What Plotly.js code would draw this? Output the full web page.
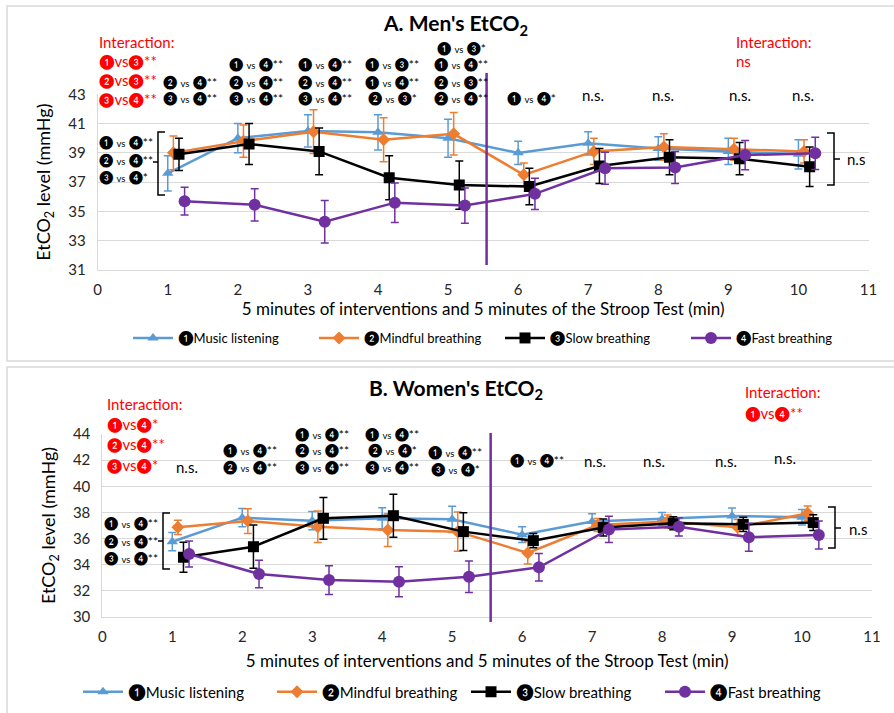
<!DOCTYPE html>
<html><head><meta charset="utf-8">
<script src="https://cdn.plot.ly/plotly-3.0.1.min.js"></script>
<style>body{margin:0;padding:0;background:#fff}#chart{width:894px;height:713px}</style>
</head><body><div id="chart"></div>
<script>
// ---------- data ----------
const minutes = [1,2,3,4,5,6,7,8,9,10];
const seriesNames = ["❶Music listening","❷Mindful breathing","❸Slow breathing","❹Fast breathing"];

const menMusic      = [37.6, 40.0, 40.5, 40.4, 40.0, 39.0, 39.65, 39.3, 39.1, 38.9];
const menMusicErr   = [1.2, 1.0, 1.1, 1.2, 1.3, 0.8, 0.8, 0.8, 0.9, 1.0];
const menMindful    = [39.0, 39.8, 40.45, 39.9, 40.3, 37.5, 39.1, 39.4, 39.25, 39.1];
const menMindfulErr = [1.15, 1.1, 1.5, 1.5, 1.45, 0.8, 0.9, 0.9, 0.75, 0.8];
const menSlow       = [38.9, 39.6, 39.1, 37.3, 36.8, 36.7, 38.1, 38.7, 38.6, 38.05];
const menSlowErr    = [1.1, 1.4, 1.6, 1.5, 1.65, 1.25, 1.2, 1.2, 1.1, 1.35];
const menFast       = [35.7, 35.45, 34.3, 35.6, 35.4, 36.2, 37.95, 38.0, 38.85, 38.97];
const menFastErr    = [0.95, 1.1, 1.45, 1.35, 1.2, 1.07, 1.1, 1.1, 1.0, 1.1];

const womenMusic      = [35.76, 37.6, 37.37, 37.55, 37.47, 36.3, 37.3, 37.5, 37.73, 37.63];
const womenMusicErr   = [0.7, 0.7, 0.7, 0.8, 1.0, 0.6, 0.6, 0.5, 0.6, 0.6];
const womenMindful    = [36.86, 37.34, 36.9, 36.65, 36.53, 34.9, 37.04, 37.3, 36.86, 37.94];
const womenMindfulErr = [0.55, 0.95, 1.2, 1.25, 1.5, 0.85, 0.5, 0.5, 0.6, 0.55];
const womenSlow       = [34.57, 35.38, 37.55, 37.75, 36.53, 35.84, 36.84, 37.17, 37.09, 37.22];
const womenSlowErr    = [1.15, 1.65, 1.6, 1.65, 1.45, 0.55, 0.65, 0.5, 0.55, 0.6];
const womenFast       = [34.82, 33.29, 32.83, 32.7, 33.08, 33.8, 36.7, 36.9, 36.1, 36.27];
const womenFastErr    = [1.0, 1.05, 1.1, 1.15, 1.2, 1.05, 1.0, 0.7, 1.07, 1.07];

// significance texts (top to bottom, per minute)
const menSig1 = ["❷ vs ❹**","❸ vs ❹**"];
const menSig2 = ["❶ vs ❹**","❷ vs ❹**","❸ vs ❹**"];
const menSig3 = ["❶ vs ❹**","❷ vs ❹**","❸ vs ❹**"];
const menSig4 = ["❶ vs ❸**","❶ vs ❹**","❷ vs ❸*"];
const menSig5 = ["❶ vs ❸*","❶ vs ❹**","❷ vs ❸**","❷ vs ❹**"];
const menSig6 = ["❶ vs ❹*"];
const menInterLeft  = ["Interaction:","❶vs❸**","❷vs❸**","❸vs❹**"];
const menInterRight = ["Interaction:","ns"];
const menBaseline   = ["❶ vs ❹**","❷ vs ❹**","❸ vs ❹*"];

const womenSig2 = ["❶ vs ❹**","❷ vs ❹**"];
const womenSig3 = ["❶ vs ❹**","❷ vs ❹**","❸ vs ❹**"];
const womenSig4 = ["❶ vs ❹**","❷ vs ❹*","❸ vs ❹**"];
const womenSig5 = ["❶ vs ❹**","❸ vs ❹*"];
const womenSig6 = ["❶ vs ❹**"];
const womenInterLeft  = ["Interaction:","❶vs❹*","❷vs❹**","❸vs❹*"];
const womenInterRight = ["Interaction:","❶vs❹**"];
const womenBaseline   = ["❶ vs ❹**","❷ vs ❹**","❸ vs ❹**"];
const nsText = "n.s.";

// ---------- style / layout ----------
const W=894, H=713;
const px = x => x/W, py = y => 1 - y/H;
const FONT = 'Lato, "DejaVu Sans", sans-serif';
const colors  = ['#5b9bd5','#ed7d31','#000000','#7030a0'];
const symbols = ['triangle-up','diamond','square','circle'];
const msize   = [10,10,11,12];
const jitter  = [0,0.08,0.16,0.24];

function circ(s, size){ return s.replace(/[❶❷❸❹]/g, c=>'<span style="font-size:'+size+'px">'+c+'</span>'); }

function makeTraces(vals, errs, xa, ya, leg, dsize){
  return vals.map((v,i)=>({
    type:'scatter', mode:'lines+markers',
    x: minutes.map(m=>m+jitter[i]), y: v,
    error_y:{type:'data', array:errs[i], visible:true, color:colors[i], thickness:1.5, width:4},
    line:{color:colors[i], width:2.5},
    marker:{symbol:symbols[i], size:msize[i], color:colors[i]},
    name: circ(seriesNames[i], dsize), xaxis:xa, yaxis:ya, legend:leg
  }));
}
const traces = [
  ...makeTraces([menMusic,menMindful,menSlow,menFast],[menMusicErr,menMindfulErr,menSlowErr,menFastErr],'x','y','legend',14),
  ...makeTraces([womenMusic,womenMindful,womenSlow,womenFast],[womenMusicErr,womenMindfulErr,womenSlowErr,womenFastErr],'x2','y2','legend2',16)
];

const ann = [];
function sig(s){ return circ(s.replace(' vs ', ' <span style="font-size:9.5px">vs</span> '), 13); }
function addText(text, x, y, opts){
  ann.push(Object.assign({xref:'paper', yref:'paper', x:px(x), y:py(y), text:text, showarrow:false,
    xanchor:'center', yanchor:'middle', font:{family:FONT, size:12, color:'#000'}}, opts||{}));
}
function addColumn(lines, x, ys){ lines.forEach((t,i)=>addText(sig(t), x, ys[i])); }
const red = {family:FONT,size:15,color:'#ff0000'};
const nsFont = {family:FONT,size:15,color:'#000'};

// Panel A annotations
menInterLeft.forEach((t,i)=>addText(circ(t,14), 97, [42,61,80,99][i], {xanchor:'left', font:red}));
menInterRight.forEach((t,i)=>addText(circ(t,14), 734, [42,61][i], {xanchor:'left', font:red}));
addColumn(menSig1, 190, [82,98]);
addColumn(menSig2, 256, [64,82,98]);
addColumn(menSig3, 325, [64,82,98]);
addColumn(menSig4, 392, [64,82,98]);
addColumn(menSig5, 461, [48,64,82,98]);
addColumn(menSig6, 531, [98]);
[593,663,740,803].forEach(x=>addText(nsText, x, 95, {font:nsFont}));
menBaseline.forEach((t,i)=>addText(sig(t), 97, [142,160,177][i], {xanchor:'left'}));
addText("n.s", 845, 159, {xanchor:'left', font:nsFont});

// Panel B annotations
addText("<b>B. Women's EtCO<sub>2</sub></b>", 456, 389, {font:{family:FONT,size:21,color:'#000'}});
womenInterLeft.forEach((t,i)=>addText(circ(t,14), 105, [404,424,444,465][i], {xanchor:'left', font:red}));
womenInterRight.forEach((t,i)=>addText(circ(t,14), 743, [392,413][i], {xanchor:'left', font:red}));
addText(nsText, 187, 467, {font:nsFont});
addColumn(womenSig2, 250, [450,467]);
addColumn(womenSig3, 322, [434,450,467]);
addColumn(womenSig4, 392, [434,450,467]);
addColumn(womenSig5, 455, [452,469]);
addColumn(womenSig6, 537, [460]);
[[595,461],[654,461],[726,461],[785,458]].forEach(p=>addText(nsText, p[0], p[1], {font:nsFont}));
womenBaseline.forEach((t,i)=>addText(sig(t), 102, [523,541,558][i], {xanchor:'left'}));
addText("n.s", 847, 529, {xanchor:'left', font:nsFont});

function pathPx(pts){ return pts.map(p=>p[0]+' '+px(p[1]).toFixed(5)+' '+py(p[2]).toFixed(5)).join(' '); }
const shapes = [
  // panel frames
  {type:'rect', xref:'paper', yref:'paper', x0:px(7), x1:px(900), y0:py(361), y1:py(6), line:{color:'#d9d9d9', width:1.5}},
  {type:'rect', xref:'paper', yref:'paper', x0:px(7), x1:px(900), y0:py(720), y1:py(367), line:{color:'#d9d9d9', width:1.5}},
  // intervention / Stroop divider
  {type:'line', xref:'x', yref:'paper', x0:5.55, x1:5.55, y0:py(265), y1:py(73), line:{color:'#7030a0', width:2.5}},
  {type:'line', xref:'x2', yref:'paper', x0:5.55, x1:5.55, y0:py(622), y1:py(433), line:{color:'#7030a0', width:2.5}},
  // brackets
  {type:'path', xref:'paper', yref:'paper', path:pathPx([['M',165,132],['L',158,132],['L',158,195],['L',165,195],['M',158,162],['L',153,162]]), line:{color:'#000', width:1.5}},
  {type:'path', xref:'paper', yref:'paper', path:pathPx([['M',827,133],['L',834,133],['L',834,185],['L',827,185],['M',834,159],['L',840,159]]), line:{color:'#000', width:1.5}},
  {type:'path', xref:'paper', yref:'paper', path:pathPx([['M',170,513],['L',163,513],['L',163,569],['L',170,569],['M',163,541],['L',158,541]]), line:{color:'#000', width:1.5}},
  {type:'path', xref:'paper', yref:'paper', path:pathPx([['M',828,507],['L',835,507],['L',835,548],['L',828,548],['M',835,528],['L',841,528]]), line:{color:'#000', width:1.5}}
];

const xCommon = {range:[0,11], tickmode:'linear', tick0:0, dtick:1, showgrid:false, zeroline:false,
  showline:true, linecolor:'#d9d9d9', linewidth:1, ticks:'', tickfont:{family:FONT,size:15,color:'#262626'},
  ticklabelstandoff:6, fixedrange:true};
const yCommon = {tickmode:'linear', dtick:2, showgrid:true, gridcolor:'#d9d9d9', gridwidth:1, zeroline:false,
  showline:true, linecolor:'#d9d9d9', linewidth:1, ticks:'', tickfont:{family:FONT,size:15,color:'#262626'},
  ticklabelstandoff:8, fixedrange:true};
const xTitleText = '5 minutes of interventions and 5 minutes of the Stroop Test (min)';
const yTitleText = 'EtCO<sub>2</sub> level (mmHg)';
const xTitleFont = {family:FONT,size:17,color:'#000'};
const yTitleFont = {family:FONT,size:18,color:'#000'};

const layout = {
  width:W, height:H, margin:{l:0,r:0,t:0,b:0}, paper_bgcolor:'#fff', plot_bgcolor:'#fff',
  font:{family:FONT, color:'#000'},
  title:{text:"<b>A. Men's EtCO<sub>2</sub></b>", x:px(456), xanchor:'center', y:py(24), yanchor:'middle', font:{family:FONT,size:21,color:'#000'}},
  xaxis: Object.assign({}, xCommon, {domain:[px(97.7),px(868.5)], anchor:'y', title:{text:xTitleText, font:xTitleFont, standoff:6}}),
  yaxis: Object.assign({}, yCommon, {domain:[py(270),py(94.3)], anchor:'x', range:[31,43], tick0:31, title:{text:yTitleText, font:yTitleFont, standoff:12}}),
  xaxis2: Object.assign({}, xCommon, {domain:[px(102.3),px(872)], anchor:'y2', title:{text:xTitleText, font:xTitleFont, standoff:11}}),
  yaxis2: Object.assign({}, yCommon, {domain:[py(617),py(434)], anchor:'x2', range:[30,44], tick0:30, title:{text:yTitleText, font:yTitleFont, standoff:12}}),
  legend:{orientation:'h', x:px(128), xanchor:'left', y:py(338), yanchor:'middle', font:{family:FONT,size:13,color:'#000'}, bgcolor:'rgba(0,0,0,0)', traceorder:'normal', itemwidth:40, entrywidth:131, entrywidthmode:'pixels'},
  legend2:{orientation:'h', x:px(78), xanchor:'left', y:py(692), yanchor:'middle', font:{family:FONT,size:15,color:'#000'}, bgcolor:'rgba(0,0,0,0)', traceorder:'normal', itemwidth:40, entrywidth:139, entrywidthmode:'pixels'},
  annotations: ann, shapes: shapes, showlegend:true
};
Plotly.newPlot('chart', traces, layout, {displayModeBar:false, staticPlot:true});
</script></body></html>
